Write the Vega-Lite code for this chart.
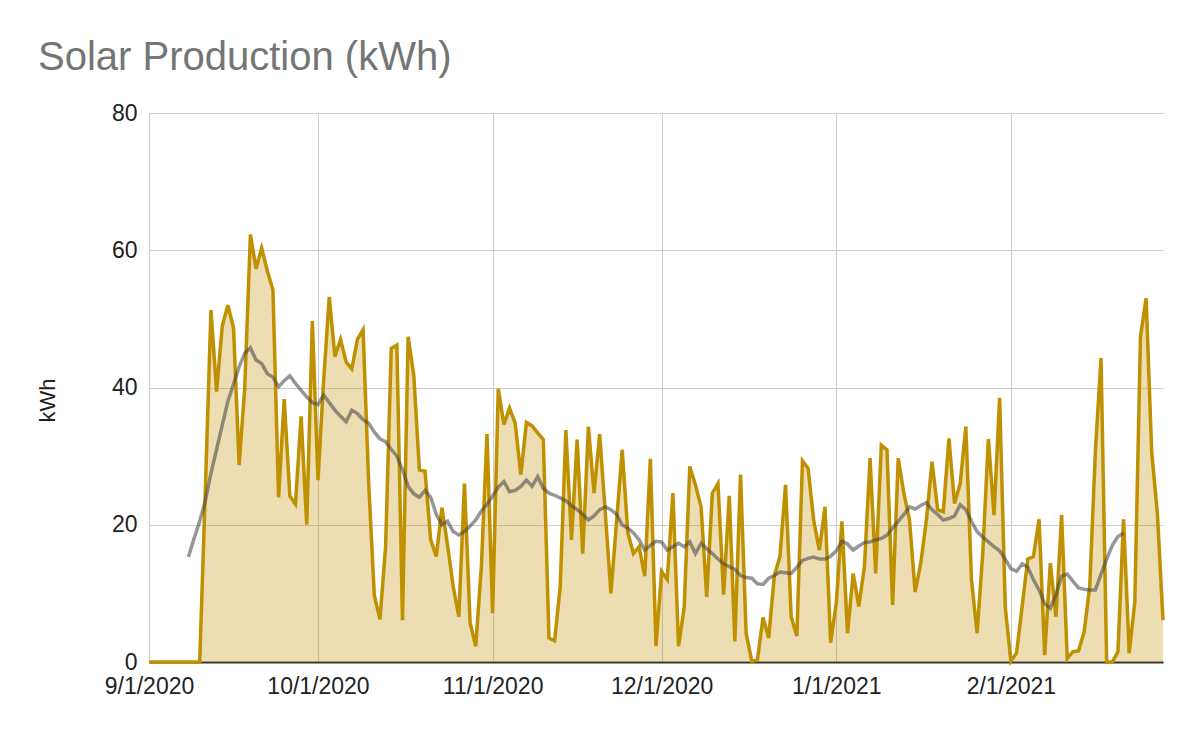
{
"$schema":"https://vega.github.io/schema/vega-lite/v6.json",
"width":1014,"height":549,
"autosize":{"type":"none"},
"padding":{"left":149,"top":113,"right":37,"bottom":74},
"background":"white",
"title":{"text":"Solar Production (kWh)","anchor":"start","frame":"group","dx":-111,"dy":40,"offset":32,"baseline":"alphabetic","font":"Liberation Sans","fontSize":40,"fontWeight":"normal","color":"#757575"},
"config":{"view":{"stroke":null},"font":"Liberation Sans"},
"data":{"values":[
{"date":"2020-09-01","kWh":0},{"date":"2020-09-02","kWh":0},{"date":"2020-09-03","kWh":0},{"date":"2020-09-04","kWh":0},{"date":"2020-09-05","kWh":0},{"date":"2020-09-06","kWh":0},{"date":"2020-09-07","kWh":0},
{"date":"2020-09-08","kWh":0,"avg":15.3},{"date":"2020-09-09","kWh":0,"avg":18},{"date":"2020-09-10","kWh":0,"avg":20.5},{"date":"2020-09-11","kWh":25,"avg":23.5},{"date":"2020-09-12","kWh":51.3,"avg":27.5},{"date":"2020-09-13","kWh":39.4,"avg":31},{"date":"2020-09-14","kWh":48.9,"avg":34.5},{"date":"2020-09-15","kWh":52,"avg":38},{"date":"2020-09-16","kWh":48.7,"avg":40.5},{"date":"2020-09-17","kWh":28.7,"avg":43},{"date":"2020-09-18","kWh":40,"avg":45},{"date":"2020-09-19","kWh":62.3,"avg":45.8},{"date":"2020-09-20","kWh":57.3,"avg":44},{"date":"2020-09-21","kWh":60.3,"avg":43.5},{"date":"2020-09-22","kWh":57,"avg":42},{"date":"2020-09-23","kWh":54.2,"avg":41.5},{"date":"2020-09-24","kWh":24,"avg":40.1},{"date":"2020-09-25","kWh":38.3,"avg":41},{"date":"2020-09-26","kWh":24.2,"avg":41.7},{"date":"2020-09-27","kWh":23,"avg":40.6},{"date":"2020-09-28","kWh":35.8,"avg":39.6},{"date":"2020-09-29","kWh":20,"avg":38.6},{"date":"2020-09-30","kWh":49.7,"avg":37.8},
{"date":"2020-10-01","kWh":26.5,"avg":37.5},{"date":"2020-10-02","kWh":41,"avg":38.9},{"date":"2020-10-03","kWh":53.2,"avg":37.8},{"date":"2020-10-04","kWh":44.5,"avg":36.7},{"date":"2020-10-05","kWh":47,"avg":35.8},{"date":"2020-10-06","kWh":43.7,"avg":35},{"date":"2020-10-07","kWh":42.7,"avg":36.7},{"date":"2020-10-08","kWh":47,"avg":36.2},{"date":"2020-10-09","kWh":48.4,"avg":35.3},{"date":"2020-10-10","kWh":26,"avg":34.8},{"date":"2020-10-11","kWh":9.7,"avg":33.5},{"date":"2020-10-12","kWh":6.2,"avg":32.5},{"date":"2020-10-13","kWh":16.8,"avg":32.1},{"date":"2020-10-14","kWh":45.7,"avg":31},{"date":"2020-10-15","kWh":46.2,"avg":30},{"date":"2020-10-16","kWh":6.1,"avg":28},{"date":"2020-10-17","kWh":47.4,"avg":25.6},{"date":"2020-10-18","kWh":41.8,"avg":24.5},{"date":"2020-10-19","kWh":28,"avg":24},{"date":"2020-10-20","kWh":27.8,"avg":25},{"date":"2020-10-21","kWh":17.8,"avg":24},{"date":"2020-10-22","kWh":15.4,"avg":21.5},{"date":"2020-10-23","kWh":22.5,"avg":20},{"date":"2020-10-24","kWh":17,"avg":20.5},{"date":"2020-10-25","kWh":11,"avg":19},{"date":"2020-10-26","kWh":6.6,"avg":18.5},{"date":"2020-10-27","kWh":26,"avg":19},{"date":"2020-10-28","kWh":5.7,"avg":19.8},{"date":"2020-10-29","kWh":2.3,"avg":20.7},{"date":"2020-10-30","kWh":13.9,"avg":22},{"date":"2020-10-31","kWh":33.2,"avg":23},
{"date":"2020-11-01","kWh":7.1,"avg":24.2},{"date":"2020-11-02","kWh":39.8,"avg":25.5},{"date":"2020-11-03","kWh":34.6,"avg":26.3},{"date":"2020-11-04","kWh":37,"avg":24.8},{"date":"2020-11-05","kWh":34.8,"avg":25},{"date":"2020-11-06","kWh":27.3,"avg":25.6},{"date":"2020-11-07","kWh":34.9,"avg":26.5},{"date":"2020-11-08","kWh":34.4,"avg":25.6},{"date":"2020-11-09","kWh":33.4,"avg":27},{"date":"2020-11-10","kWh":32.4,"avg":25.3},{"date":"2020-11-11","kWh":3.5,"avg":24.6},{"date":"2020-11-12","kWh":3.1,"avg":24.3},{"date":"2020-11-13","kWh":11,"avg":23.9},{"date":"2020-11-14","kWh":33.8,"avg":23.5},{"date":"2020-11-15","kWh":17.8,"avg":22.8},{"date":"2020-11-16","kWh":32.4,"avg":22.2},{"date":"2020-11-17","kWh":15.8,"avg":21.5},{"date":"2020-11-18","kWh":34.3,"avg":20.7},{"date":"2020-11-19","kWh":24.6,"avg":21.3},{"date":"2020-11-20","kWh":33.2,"avg":22.2},{"date":"2020-11-21","kWh":21.7,"avg":22.6},{"date":"2020-11-22","kWh":10,"avg":22.2},{"date":"2020-11-23","kWh":20.5,"avg":21.5},{"date":"2020-11-24","kWh":30.9,"avg":20},{"date":"2020-11-25","kWh":18.8,"avg":19.5},{"date":"2020-11-26","kWh":15.8,"avg":18.8},{"date":"2020-11-27","kWh":16.8,"avg":17.8},{"date":"2020-11-28","kWh":12.5,"avg":16.3},{"date":"2020-11-29","kWh":29.6,"avg":17},{"date":"2020-11-30","kWh":2.3,"avg":17.6},
{"date":"2020-12-01","kWh":13.2,"avg":17.5},{"date":"2020-12-02","kWh":12,"avg":16.3},{"date":"2020-12-03","kWh":24.6,"avg":16.8},{"date":"2020-12-04","kWh":2.3,"avg":17.3},{"date":"2020-12-05","kWh":7.9,"avg":16.8},{"date":"2020-12-06","kWh":28.5,"avg":17.5},{"date":"2020-12-07","kWh":25.8,"avg":15.8},{"date":"2020-12-08","kWh":22.6,"avg":17.3},{"date":"2020-12-09","kWh":9.5,"avg":16.5},{"date":"2020-12-10","kWh":24.6,"avg":15.8},{"date":"2020-12-11","kWh":26,"avg":15},{"date":"2020-12-12","kWh":9.8,"avg":14.3},{"date":"2020-12-13","kWh":24.2,"avg":13.9},{"date":"2020-12-14","kWh":3,"avg":13.5},{"date":"2020-12-15","kWh":27.3,"avg":12.6},{"date":"2020-12-16","kWh":4.2,"avg":12.3},{"date":"2020-12-17","kWh":0.1,"avg":12.2},{"date":"2020-12-18","kWh":0.3,"avg":11.4},{"date":"2020-12-19","kWh":6.5,"avg":11.3},{"date":"2020-12-20","kWh":3.5,"avg":12.2},{"date":"2020-12-21","kWh":12.5,"avg":12.6},{"date":"2020-12-22","kWh":15.4,"avg":13.1},{"date":"2020-12-23","kWh":25.8,"avg":13},{"date":"2020-12-24","kWh":6.6,"avg":12.9},{"date":"2020-12-25","kWh":3.8,"avg":13.8},{"date":"2020-12-26","kWh":29.3,"avg":14.8},{"date":"2020-12-27","kWh":28.2,"avg":15.1},{"date":"2020-12-28","kWh":20.6,"avg":15.3},{"date":"2020-12-29","kWh":16.3,"avg":15},{"date":"2020-12-30","kWh":22.6,"avg":15},{"date":"2020-12-31","kWh":2.8,"avg":15.4},
{"date":"2021-01-01","kWh":8.6,"avg":16.2},{"date":"2021-01-02","kWh":20.5,"avg":17.6},{"date":"2021-01-03","kWh":4.2,"avg":17.2},{"date":"2021-01-04","kWh":12.9,"avg":16.3},{"date":"2021-01-05","kWh":8.1,"avg":16.9},{"date":"2021-01-06","kWh":13.9,"avg":17.4},{"date":"2021-01-07","kWh":29.7,"avg":17.5},{"date":"2021-01-08","kWh":12.9,"avg":17.8},{"date":"2021-01-09","kWh":31.6,"avg":18},{"date":"2021-01-10","kWh":30.9,"avg":18.5},{"date":"2021-01-11","kWh":8.3,"avg":19.5},{"date":"2021-01-12","kWh":29.7,"avg":20.5},{"date":"2021-01-13","kWh":24.6,"avg":21.5},{"date":"2021-01-14","kWh":20.7,"avg":22.6},{"date":"2021-01-15","kWh":10.2,"avg":22.3},{"date":"2021-01-16","kWh":14.4,"avg":22.8},{"date":"2021-01-17","kWh":20.7,"avg":23.2},{"date":"2021-01-18","kWh":29.2,"avg":22.2},{"date":"2021-01-19","kWh":22.2,"avg":21.5},{"date":"2021-01-20","kWh":21.9,"avg":20.7},{"date":"2021-01-21","kWh":32.6,"avg":20.9},{"date":"2021-01-22","kWh":23.1,"avg":21.3},{"date":"2021-01-23","kWh":26,"avg":22.9},{"date":"2021-01-24","kWh":34.3,"avg":22.2},{"date":"2021-01-25","kWh":12,"avg":20.5},{"date":"2021-01-26","kWh":4.2,"avg":19},{"date":"2021-01-27","kWh":15.8,"avg":18.2},{"date":"2021-01-28","kWh":32.5,"avg":17.5},{"date":"2021-01-29","kWh":21.4,"avg":16.8},{"date":"2021-01-30","kWh":38.5,"avg":16.2},{"date":"2021-01-31","kWh":8,"avg":15},
{"date":"2021-02-01","kWh":0.1,"avg":13.6},{"date":"2021-02-02","kWh":1.3,"avg":13.2},{"date":"2021-02-03","kWh":8.1,"avg":14.3},{"date":"2021-02-04","kWh":15,"avg":13.8},{"date":"2021-02-05","kWh":15.4,"avg":12},{"date":"2021-02-06","kWh":20.8,"avg":10.5},{"date":"2021-02-07","kWh":1,"avg":8.5},{"date":"2021-02-08","kWh":14.4,"avg":7.8},{"date":"2021-02-09","kWh":6.6,"avg":9.8},{"date":"2021-02-10","kWh":21.4,"avg":12.5},{"date":"2021-02-11","kWh":0.5,"avg":12.8},{"date":"2021-02-12","kWh":1.5,"avg":11.8},{"date":"2021-02-13","kWh":1.6,"avg":10.8},{"date":"2021-02-14","kWh":4.4,"avg":10.6},{"date":"2021-02-15","kWh":11,"avg":10.5},{"date":"2021-02-16","kWh":30.8,"avg":10.5},{"date":"2021-02-17","kWh":44.3,"avg":12.8},{"date":"2021-02-18","kWh":0,"avg":15},{"date":"2021-02-19","kWh":0,"avg":17},{"date":"2021-02-20","kWh":1.5,"avg":18.3},{"date":"2021-02-21","kWh":20.8,"avg":18.8},
{"date":"2021-02-22","kWh":1.3},{"date":"2021-02-23","kWh":8.8},{"date":"2021-02-24","kWh":47.4},{"date":"2021-02-25","kWh":53},{"date":"2021-02-26","kWh":30.5},{"date":"2021-02-27","kWh":21.7},{"date":"2021-02-28","kWh":6.1}
]},
"encoding":{
"x":{"field":"date","type":"temporal",
 "scale":{"type":"utc","domain":[{"year":2020,"month":9,"date":1,"utc":true},{"year":2021,"month":2,"date":28,"utc":true}]},
 "axis":{"title":null,"format":"%-m/%-d/%Y","values":[{"year":2020,"month":9,"date":1,"utc":true},{"year":2020,"month":10,"date":1,"utc":true},{"year":2020,"month":11,"date":1,"utc":true},{"year":2020,"month":12,"date":1,"utc":true},{"year":2021,"month":1,"date":1,"utc":true},{"year":2021,"month":2,"date":1,"utc":true}],
  "grid":true,"gridColor":"#cccccc","gridWidth":1,"ticks":false,"tickSize":0,"domain":true,"domainColor":"#333333","domainWidth":2,
  "labelFont":"Liberation Sans","labelFontSize":23,"labelColor":"#222222","labelPadding":13,"labelFlush":false,"labelOverlap":false,"labelAngle":0}},
"y":{"type":"quantitative","scale":{"domain":[0,80],"nice":false,"zero":true},
 "axis":{"title":"kWh","values":[0,20,40,60,80],"grid":true,"gridColor":"#cccccc","gridWidth":1,"ticks":false,"tickSize":0,"domain":false,
  "labelFont":"Liberation Sans","labelFontSize":23,"labelColor":"#222222","labelPadding":12,
  "titleFont":"Liberation Sans","titleFontSize":22,"titleFontWeight":"normal","titleColor":"#222222","titleAngle":-90,"titleAlign":"center","titleBaseline":"alphabetic","titleX":-95,"titleY":287}}
},
"layer":[
{"mark":{"type":"area","color":"#BF9000","fillOpacity":0.3,"strokeWidth":0},"encoding":{"y":{"field":"kWh"}}},
{"mark":{"type":"line","color":"#BF9000","strokeWidth":3.5},"encoding":{"y":{"field":"kWh"}}},
{"mark":{"type":"line","color":"#404040","opacity":0.55,"strokeWidth":3.5},"encoding":{"y":{"field":"avg"}}}
]
}
